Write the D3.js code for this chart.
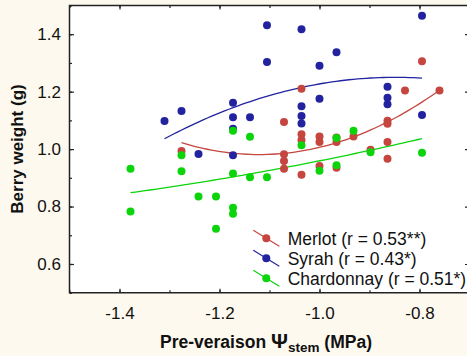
<!DOCTYPE html>
<html>
<head>
<meta charset="utf-8">
<script src="https://cdn.jsdelivr.net/npm/d3@7"></script>
<style>
body { margin: 0; background: #fdf9ee; }
text { font-family: "Liberation Sans", Arial, sans-serif; fill: #111; }
</style>
</head>
<body>
<svg id="chart" width="467" height="356"></svg>
<script>
// values
var merlotX = [-1.276,-1.071,-1.071,-1.071,-1.071,-1.036,-1.036,-1.036,-1.036,-1.0,-1.0,-1.0,-0.966,-0.966,-0.966,-0.932,-0.898,-0.864,-0.864,-0.864,-0.864,-0.829,-0.795,-0.760];
var merlotY = [0.993,1.094,0.982,0.959,0.932,1.210,1.052,1.032,0.911,1.044,1.025,0.941,1.040,1.025,0.935,1.044,0.998,1.099,1.088,1.025,0.966,1.204,1.306,1.204];

var syrahX = [-1.310,-1.276,-1.242,-1.173,-1.173,-1.173,-1.173,-1.139,-1.105,-1.105,-1.036,-1.036,-1.036,-1.036,-1.0,-1.0,-0.966,-0.864,-0.864,-0.864,-0.795,-0.795];
var syrahY = [1.098,1.133,0.983,1.161,1.111,1.071,0.979,1.111,1.431,1.303,1.417,1.149,1.115,1.089,1.175,1.290,1.337,1.217,1.179,1.156,1.464,1.119];

var chardX = [-1.378,-1.378,-1.276,-1.276,-1.242,-1.207,-1.207,-1.173,-1.173,-1.173,-1.173,-1.139,-1.139,-1.105,-1.036,-1.0,-0.966,-0.966,-0.932,-0.898,-0.795];
var chardY = [0.932,0.783,0.979,0.923,0.835,0.835,0.723,1.064,0.915,0.796,0.775,1.043,0.902,0.902,1.013,0.925,1.039,0.944,1.064,0.989,0.987];

// quadratic fits y = a*x^2 + b*x + c
var merlotFit = [1.725, 3.866, 3.147];
var syrahFit = [-1.008, -1.712, 0.523];
var chardFit = [0.1443, 0.6367, 1.4515];

var xTicks = [-1.4, -1.2, -1.0, -0.8];
var yTicks = [0.6, 0.8, 1.0, 1.2, 1.4];
var legendLabels = ["Merlot (r = 0.53**)", "Syrah (r = 0.43*)", "Chardonnay (r = 0.51*)"];

var series = [
  {name: "Syrah", xs: syrahX, ys: syrahY, fit: syrahFit, color: "#2323a0"},
  {name: "Merlot", xs: merlotX, ys: merlotY, fit: merlotFit, color: "#c4463f"},
  {name: "Chardonnay", xs: chardX, ys: chardY, fit: chardFit, color: "#0bd40b"}
];
var legendColors = ["#c4463f", "#2323a0", "#0bd40b"];

var pLeft = 69.5, pRight = 469.5, pTop = 5.5, pBottom = 292.7;

var svg = d3.select("#chart");

svg.append("rect")
    .attr("width", 467).attr("height", 356)
    .attr("fill", "#fdf9ee");
svg.append("rect")
    .attr("x", pLeft).attr("y", pTop)
    .attr("width", pRight - pLeft).attr("height", pBottom - pTop)
    .attr("fill", "white");

var x = d3.scaleLinear().domain([-1.5, -0.7]).range([pLeft, pRight]);
var y = d3.scaleLinear().domain([0.5, 1.5]).range([pBottom, pTop]);

var xMinor = d3.range(-15, -6).map(d => d / 10);
var yMinor = d3.range(5, 16).map(d => d / 10);
var fmt = d => d.toFixed(1);

function styleAxis(g) {
  g.select(".domain").remove();
  g.selectAll("line").attr("stroke", "#222").attr("stroke-width", 1.2);
  g.selectAll("text").attr("font-size", 17).attr("fill", "#111")
      .attr("font-family", "Liberation Sans, Arial, sans-serif");
}

// minor ticks on all four sides
svg.append("g").attr("transform", `translate(0,${pBottom})`)
    .call(d3.axisBottom(x).tickValues(xMinor).tickSize(-2.5).tickFormat(""))
    .call(styleAxis);
svg.append("g").attr("transform", `translate(0,${pTop})`)
    .call(d3.axisTop(x).tickValues(xMinor).tickSize(-2.5).tickFormat(""))
    .call(styleAxis);
svg.append("g").attr("transform", `translate(${pLeft},0)`)
    .call(d3.axisLeft(y).tickValues(yMinor).tickSize(-2.5).tickFormat(""))
    .call(styleAxis);
svg.append("g").attr("transform", `translate(${pRight},0)`)
    .call(d3.axisRight(y).tickValues(yMinor).tickSize(-2.5).tickFormat(""))
    .call(styleAxis);

// major ticks + labels
svg.append("g").attr("transform", `translate(0,${pBottom})`)
    .call(d3.axisBottom(x).tickValues(xTicks).tickSize(-4).tickPadding(14).tickFormat(fmt))
    .call(styleAxis);
svg.append("g").attr("transform", `translate(0,${pTop})`)
    .call(d3.axisTop(x).tickValues(xTicks).tickSize(-4).tickFormat(""))
    .call(styleAxis);
svg.append("g").attr("transform", `translate(${pLeft},0)`)
    .call(d3.axisLeft(y).tickValues(yTicks).tickSize(-4.5).tickPadding(8.5).tickFormat(fmt))
    .call(styleAxis);
svg.append("g").attr("transform", `translate(${pRight},0)`)
    .call(d3.axisRight(y).tickValues(yTicks).tickSize(-4.5).tickFormat(""))
    .call(styleAxis);

// frame
svg.append("path")
    .attr("d", `M${pRight},${pTop}H${pLeft}V${pBottom}H${pRight}V${pTop}`)
    .attr("fill", "none")
    .attr("stroke", "#222")
    .attr("stroke-width", 1.5);

var line = d3.line().x(d => x(d[0])).y(d => y(d[1]));

series.forEach(function(s) {
  var ext = d3.extent(s.xs);
  var pts = d3.range(61).map(function(i) {
    var xv = ext[0] + (ext[1] - ext[0]) * i / 60;
    return [xv, s.fit[0] * xv * xv + s.fit[1] * xv + s.fit[2]];
  });
  svg.append("path")
      .attr("d", line(pts))
      .attr("fill", "none")
      .attr("stroke", s.color)
      .attr("stroke-width", 1.3);
});

series.forEach(function(s) {
  svg.append("g")
      .selectAll("circle")
      .data(s.xs.map((d, i) => [d, s.ys[i]]))
      .join("circle")
      .attr("cx", d => x(d[0]))
      .attr("cy", d => y(d[1]))
      .attr("r", 4)
      .attr("fill", s.color);
});

// legend
var legend = svg.append("g");
legendLabels.forEach(function(lab, i) {
  var ly = 238.3 + i * 20;
  legend.append("line")
      .attr("x1", 253.3).attr("y1", ly - 8)
      .attr("x2", 279.3).attr("y2", ly + 8)
      .attr("stroke", legendColors[i]).attr("stroke-width", 1.2);
  legend.append("circle")
      .attr("cx", 266.3).attr("cy", ly).attr("r", 4)
      .attr("fill", legendColors[i]);
  legend.append("text")
      .attr("x", 287.7).attr("y", ly)
      .attr("dy", "0.36em")
      .attr("font-size", 17.5)
      .text(lab);
});

// axis titles
svg.append("text")
    .attr("transform", "rotate(-90)")
    .attr("x", -149).attr("y", 23)
    .attr("text-anchor", "middle")
    .attr("font-weight", "bold")
    .attr("font-size", 17)
    .text("Berry weight (g)");

var xt = svg.append("text")
    .attr("x", 266).attr("y", 348)
    .attr("text-anchor", "middle")
    .attr("font-weight", "bold")
    .attr("font-size", 17.5);
xt.append("tspan").text("Pre-veraison ");
xt.append("tspan").attr("font-size", 21).text("Ψ");
xt.append("tspan").attr("font-size", 13.5).attr("dy", 4).text("stem");
xt.append("tspan").attr("dy", -4).text(" (MPa)");
</script>
</body>
</html>
